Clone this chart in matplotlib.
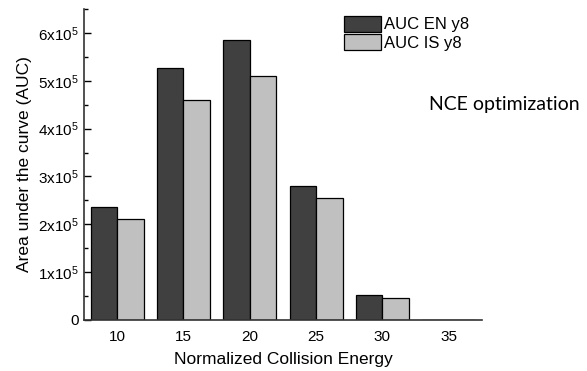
import matplotlib.pyplot as plt
import numpy as np
from matplotlib.ticker import MultipleLocator, FuncFormatter

plt.rcParams['font.family'] = ['Liberation Sans', 'DejaVu Sans']
plt.rcParams['mathtext.fontset'] = 'custom'
plt.rcParams['mathtext.rm'] = 'Liberation Sans'
plt.rcParams['mathtext.it'] = 'Liberation Sans:italic'

# Datos
nce = [10, 15, 20, 25, 30, 35]
auc_en = [2.36e5, 5.26e5, 5.85e5, 2.81e5, 0.52e5, 0]
auc_is = [2.11e5, 4.60e5, 5.10e5, 2.55e5, 0.47e5, 0]

fig = plt.figure(figsize=(5.87, 3.71), dpi=100)
ax = fig.add_axes([0.143, 0.1375, 0.678, 0.838])

x = np.array(nce)
ancho = 2
ax.bar(x - ancho / 2, auc_en, ancho, color='#404040', edgecolor='black', linewidth=0.9, label='AUC EN y8')
ax.bar(x + ancho / 2, auc_is, ancho, color='#c0c0c0', edgecolor='black', linewidth=0.9, label='AUC IS y8')

ax.set_xlim(7.5, 37.5)
ax.set_ylim(0, 6.5e5)
ax.set_xticks(nce)
ax.tick_params(axis='x', length=0, labelsize=11, pad=7)

ax.yaxis.set_major_locator(MultipleLocator(1e5))
ax.yaxis.set_minor_locator(MultipleLocator(0.5e5))


def fmt(v, pos):
    n = int(round(v / 1e5))
    if n == 0:
        return '0'
    return f'{n}x10$^5$'


ax.yaxis.set_major_formatter(FuncFormatter(fmt))
ax.tick_params(axis='y', which='major', direction='in', length=5, width=1, labelsize=11, pad=4)
ax.tick_params(axis='y', which='minor', direction='in', length=3, width=1)

for s in ['top', 'right']:
    ax.spines[s].set_visible(False)
for s in ['left', 'bottom']:
    ax.spines[s].set_color('#333333')
    ax.spines[s].set_linewidth(1.2)

ax.set_xlabel('Normalized Collision Energy', fontsize=12.5, labelpad=6)
ax.set_ylabel('Area under the curve (AUC)', fontsize=12.5, labelpad=4)

fig.legend(loc='upper left', bbox_to_anchor=(0.586, 0.958), frameon=False, fontsize=12,
           handlelength=2.2, handleheight=1.1, handletextpad=0.2, labelspacing=0.1,
           borderpad=0, borderaxespad=0)

fig.text(0.731, 0.717, 'NCE optimization', fontsize=14, family=['Lato', 'DejaVu Sans'],
         ha='left', va='center')

fig.savefig('out.png', dpi=100)
